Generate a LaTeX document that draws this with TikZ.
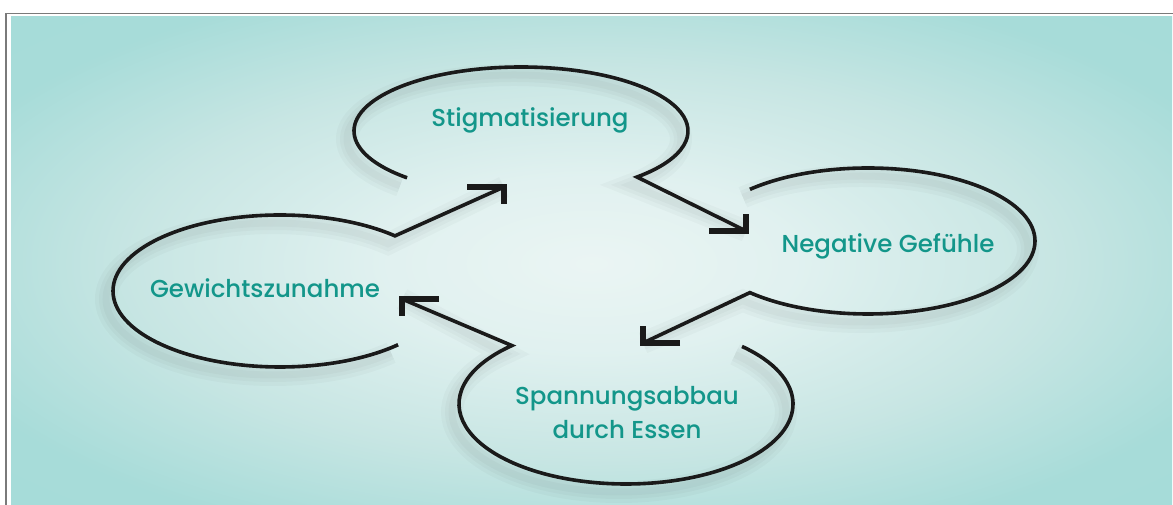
\documentclass[tikz,border=0pt]{standalone}
\usepackage{fontspec}
\setmainfont{Poppins}[UprightFont={Poppins Medium}]
\usepackage{xcolor}
\definecolor{tealtext}{HTML}{13968A}
\definecolor{framegray}{HTML}{7A7A7A}
\definecolor{inkblack}{HTML}{1A1A1A}
\usepackage{tikz}

\pgfdeclareradialshading{backglow}{\pgfpoint{0bp}{0bp}}{%
    rgb(0bp)=(0.92,0.96,0.955);
    rgb(9bp)=(0.88,0.945,0.94);
    rgb(20bp)=(0.78,0.90,0.89);
    rgb(30bp)=(0.655,0.862,0.85);
    rgb(50bp)=(0.64,0.858,0.847)}

\tikzset{
    loopline/.style={draw=inkblack, line width=3.6pt},
    barbhead/.style={draw=inkblack, line width=5.5pt, miter limit=4},
    label/.style={text=tealtext, anchor=base, align=center, font=\fontsize{24.5}{34}\selectfont}
}

\begin{document}
\begin{tikzpicture}[x=1pt, y=1pt]
            \useasboundingbox (0,0) rectangle (1173,505);
            \clip (0,0) rectangle (1173,505);
            \fill[white] (0,0) rectangle (1173,505);
            \shade[shading=backglow] (11,-5) rectangle (1172,488);
            \draw[framegray, line width=1.6pt] (6,-20) -- (6,491.5) -- (1190,491.5);

            \node (stigma) at (530,378) [label] {Stigmatisierung};
            \node (negativ) at (888,252) [label] {Negative Gefühle};
            \node (gewicht) at (265,207) [label] {Gewichtszunahme};
            \node (spannung) at (627,66) [label] {Spannungsabbau\\durch Essen};

            \coordinate (tipStigma) at (504,318);
            \coordinate (tipNegativ) at (746,274);
            \coordinate (tipSpannung) at (643,162);
            \coordinate (tipGewicht) at (402,206);

            \foreach \cx/\cy/\rx/\ry/\sa/\ea/\tip/\ax/\ay in {
                280/214/167/76/315/46.5/tipStigma/-37/-17,
                521/374/167/64/227/-46/tipNegativ/-37/17,
                868/264/167/73/135/-135/tipSpannung/37/17,
                626/101/167/80/46/-226.9/tipGewicht/37/-17} {
                % soft shadow
                \foreach \w in {22,14,7} {
                    \draw[shift={(-7,-8)}, draw=black, draw opacity=0.025, line width=\w pt]
                        ({\cx+\rx*cos(\sa)},{\cy+\ry*sin(\sa)})
                        arc[start angle=\sa, end angle=\ea, x radius=\rx, y radius=\ry] -- (\tip);
                }
                \draw[loopline] ({\cx+\rx*cos(\sa)},{\cy+\ry*sin(\sa)})
                    arc[start angle=\sa, end angle=\ea, x radius=\rx, y radius=\ry] -- (\tip);
                \draw[barbhead] (\tip) ++(\ax,0) -- (\tip) -- ++(0,\ay);
            }
        \end{tikzpicture}
\end{document}
